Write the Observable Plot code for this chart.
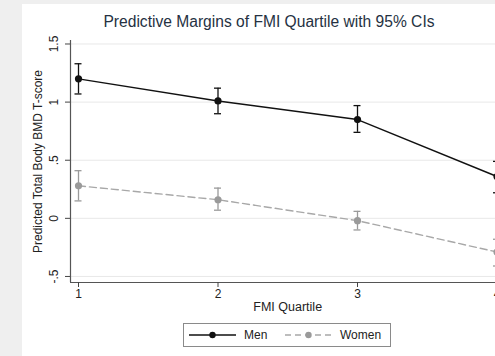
<!DOCTYPE html>
<html>
<head>
<meta charset="utf-8">
<script src="https://cdn.jsdelivr.net/npm/d3@7"></script>
<script src="https://cdn.jsdelivr.net/npm/@observablehq/plot@0.6"></script>
<style>
  html, body { margin: 0; padding: 0; overflow: hidden; width: 495px; height: 356px; background: #efefef; font-family: "Liberation Sans", Arial, sans-serif; }
  #panel { position: absolute; left: 22px; top: 4px; width: 473px; height: 352px; background: #fff; }
  #title { position: absolute; left: 0; width: 538px; top: 13px; text-align: center; font-size: 15.6px; color: #253142; white-space: nowrap; }
  #chart { position: absolute; left: 0; top: 30px; width: 540px; }
  #chart svg { background: transparent; overflow: visible; max-width: none !important; }
  #legend { position: absolute; left: 183px; top: 323px; width: 206px; height: 22px; border: 1px solid #8a8a8a; background: #fff; font-size: 12px; color: #222; }
  #legend .item { position: absolute; top: 0; height: 22px; display: flex; align-items: center; }
  #legend svg { display: block; margin-right: 8px; }
</style>
</head>
<body>
<div id="panel"></div>
<div id="title">Predictive Margins of FMI Quartile with 95% CIs</div>
<div id="chart"></div>
<div id="legend"></div>
<script>
// FMI quartiles and predictive margins (with 95% confidence limits)
const quartiles = [1, 2, 3, 4];
const menMargin = [1.20, 1.01, 0.85, 0.36];
const menLower  = [1.07, 0.90, 0.74, 0.22];
const menUpper  = [1.33, 1.12, 0.97, 0.49];
const womenMargin = [0.28, 0.16, -0.02, -0.29];
const womenLower  = [0.15, 0.07, -0.10, -0.41];
const womenUpper  = [0.41, 0.26, 0.06, -0.18];
const yTicks = [-0.5, 0, 0.5, 1, 1.5];
const yTickLabels = ["-.5", "0", ".5", "1", "1.5"];
const groups = ["Men", "Women"];

const colors = {Men: "#111", Women: "#9a9a9a"};

const rows = [];
quartiles.forEach((q, i) => {
  rows.push({group: "Men", q, m: menMargin[i], lo: menLower[i], hi: menUpper[i]});
  rows.push({group: "Women", q, m: womenMargin[i], lo: womenLower[i], hi: womenUpper[i]});
});
const men = rows.filter(d => d.group === "Men");
const women = rows.filter(d => d.group === "Women");

// x scale: 139.5 px per quartile, y axis sits a little left of quartile 1
const pxPerUnit = 139.5;
const xDomain = [1 - 8 / pxPerUnit, 4.2];
const xRange = [70, 70 + (xDomain[1] - xDomain[0]) * pxPerUnit];
const cap = 3.5 / pxPerUnit;
const yDomain = [-0.552, 1.53];

const plot = Plot.plot({
  width: 540,
  height: 290,
  marginTop: 10,
  marginBottom: 38,
  marginLeft: 70,
  marginRight: 540 - xRange[1],
  style: {fontFamily: "Liberation Sans, Arial, sans-serif", fontSize: "12px", color: "#222", background: "transparent", maxWidth: "none"},
  x: {domain: xDomain, range: xRange},
  y: {domain: yDomain},
  marks: [
    Plot.gridY(yTicks, {stroke: "#e8e8e8", strokeOpacity: 1, strokeWidth: 1}),
    Plot.ruleX([xDomain[0]], {stroke: "#555", strokeWidth: 1.2}),
    Plot.ruleY([yDomain[0]], {stroke: "#555", strokeWidth: 1.2}),
    Plot.axisY(yTicks, {
      tickSize: 5, tickPadding: 8, stroke: "#444",
      tickFormat: (d) => yTickLabels[yTicks.indexOf(d)],
      tickRotate: -90, fontSize: 12, label: null
    }),
    Plot.axisX(quartiles, {tickSize: 5, tickPadding: 2, stroke: "#444", fontSize: 12, label: null, tickFormat: d => String(d)}),
    Plot.text(["FMI Quartile"], {frameAnchor: "bottom", dx: -10, dy: 28, fontSize: 12.5, fill: "#222", text: d => d}),
    Plot.text(["Predicted Total Body BMD T-score"], {frameAnchor: "left", textAnchor: "middle", dx: -32, rotate: -90, fontSize: 12, fill: "#222", text: d => d}),
    // confidence intervals
    Plot.ruleX(rows, {x: "q", y1: "lo", y2: "hi", stroke: d => colors[d.group], strokeWidth: 1.3}),
    Plot.ruleY(rows, {y: "lo", x1: d => d.q - cap, x2: d => d.q + cap, stroke: d => colors[d.group], strokeWidth: 1.3}),
    Plot.ruleY(rows, {y: "hi", x1: d => d.q - cap, x2: d => d.q + cap, stroke: d => colors[d.group], strokeWidth: 1.3}),
    // margin lines
    Plot.line(men, {x: "q", y: "m", stroke: colors.Men, strokeWidth: 1.4}),
    Plot.line(women, {x: "q", y: "m", stroke: "#a8a8a8", strokeWidth: 1.4, strokeDasharray: "7,4"}),
    Plot.dot(rows, {x: "q", y: "m", r: 3.6, fill: d => colors[d.group], stroke: "none"})
  ]
});
document.getElementById("chart").appendChild(plot);

// legend
const legend = document.getElementById("legend");
const legendPos = {Men: 5, Women: 101};
groups.forEach(g => {
  const item = document.createElement("div");
  item.className = "item";
  item.style.left = legendPos[g] + "px";
  const dash = g === "Women" ? ' stroke-dasharray="6,4"' : "";
  const lineColor = g === "Women" ? "#a8a8a8" : colors.Men;
  item.innerHTML = `<svg width="47" height="10"><line x1="0" y1="5" x2="47" y2="5" stroke="${lineColor}" stroke-width="1.3"${dash}/><circle cx="23.5" cy="5" r="3.2" fill="${colors[g]}"/></svg><span>${g}</span>`;
  legend.appendChild(item);
});
</script>
</body>
</html>
